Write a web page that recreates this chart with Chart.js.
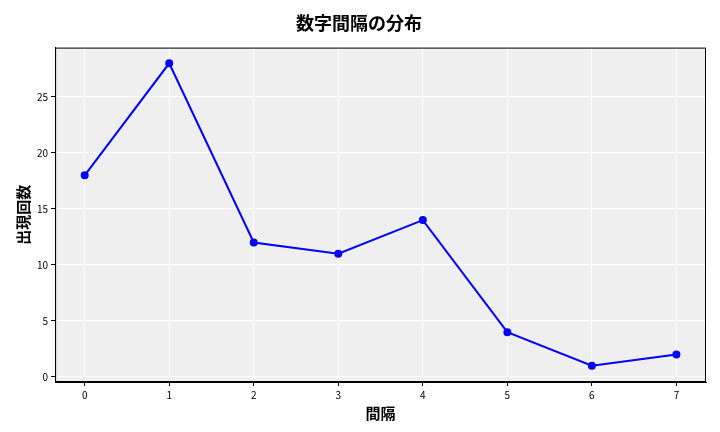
<!DOCTYPE html>
<html>
<head>
<meta charset="utf-8">
<script src="https://cdn.jsdelivr.net/npm/chart.js@4"></script>
<style>
  body { margin: 0; background: #fff; }
  #wrap { width: 720px; height: 432px; }
</style>
</head>
<body>
<div id="wrap"><canvas id="chart"></canvas></div>
<script>
const gaps = [0, 1, 2, 3, 4, 5, 6, 7]
const counts = [18, 28, 12, 11, 14, 4, 1, 2]
const font = "'Noto Sans CJK JP', sans-serif"

// Plot area background and frame
const bgPlugin = {
  id: 'bg',
  beforeDraw (c) {
    const a = c.chartArea
    c.ctx.save()
    c.ctx.fillStyle = '#efefef'
    c.ctx.fillRect(a.left, a.top, a.right - a.left, a.bottom - a.top)
    c.ctx.restore()
  },
  afterDraw (c) {
    const a = c.chartArea
    c.ctx.save()
    c.ctx.strokeStyle = '#000'
    c.ctx.lineWidth = 1
    c.ctx.strokeRect(a.left + 0.5, a.top + 0.5, a.right - a.left - 1, a.bottom - a.top - 1)
    c.ctx.restore()
  }
}

new Chart(document.querySelector('#chart'), {
  type: 'line',
  data: {
    datasets: [{
      data: gaps.map((g, i) => ({ x: g, y: counts[i] })),
      borderColor: '#0000ff',
      backgroundColor: '#0000ff',
      borderWidth: 2,
      pointRadius: 3,
      tension: 0
    }]
  },
  options: {
    responsive: true,
    maintainAspectRatio: false,
    animation: false,
    layout: { padding: { left: 12, right: 14, top: 10, bottom: 10 } },
    plugins: {
      legend: { display: false },
      title: {
        display: true,
        text: '数字間隔の分布',
        font: { family: font, size: 18, weight: 'bold' },
        color: '#000',
        padding: { top: 2, bottom: 14 }
      }
    },
    scales: {
      x: {
        type: 'linear',
        min: -0.35,
        max: 7.35,
        afterBuildTicks: a => { a.ticks = gaps.map(v => ({ value: v })) },
        grid: { color: '#ffffff', lineWidth: 1, drawTicks: true, tickColor: '#000', tickLength: 4 },
        border: { color: '#000' },
        ticks: { color: '#000', font: { family: font, size: 10 } },
        title: { display: true, text: '間隔', color: '#000', font: { family: font, size: 15, weight: 'bold' }, padding: 0 }
      },
      y: {
        min: -0.45,
        max: 29.4,
        afterBuildTicks: a => { a.ticks = [0, 5, 10, 15, 20, 25].map(v => ({ value: v })) },
        grid: { color: '#ffffff', lineWidth: 1, tickColor: '#000', tickLength: 4 },
        border: { color: '#000' },
        ticks: { color: '#000', font: { family: font, size: 10 } },
        title: { display: true, text: '出現回数', color: '#000', font: { family: font, size: 15, weight: 'bold' }, padding: 2 }
      }
    }
  },
  plugins: [bgPlugin]
})
</script>
</body>
</html>
